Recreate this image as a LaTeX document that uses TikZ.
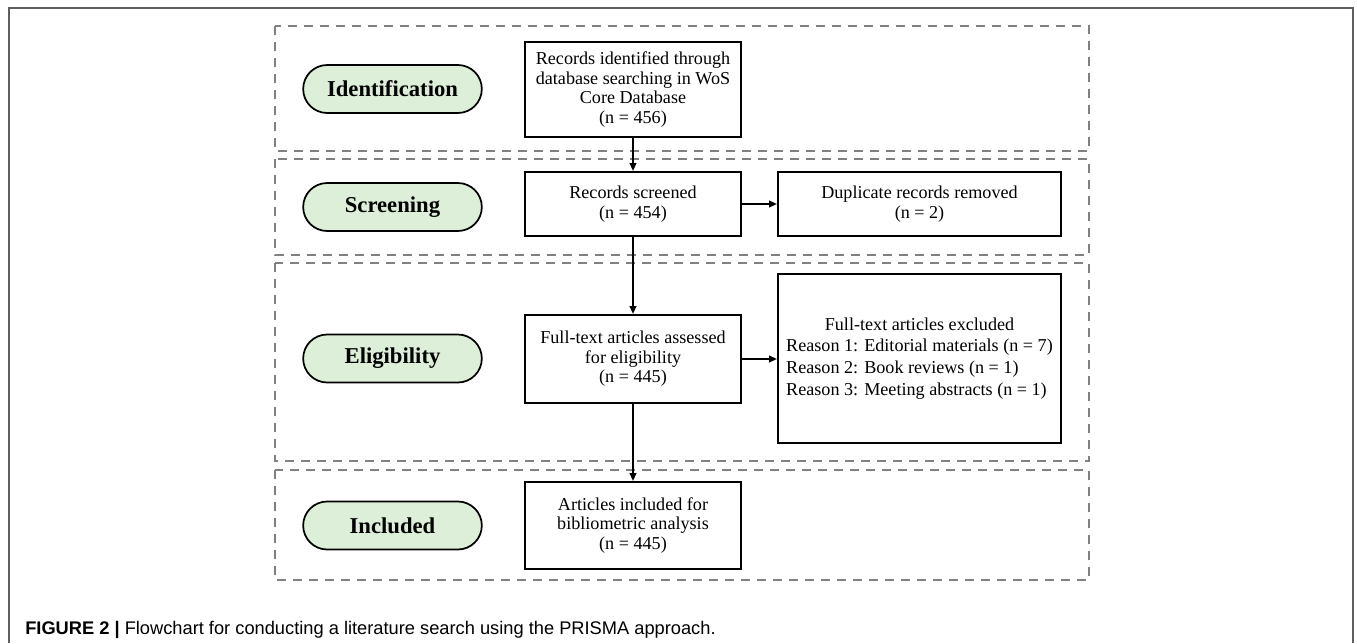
\documentclass[tikz,border=0pt]{standalone}
\usepackage{fontspec}
\setmainfont{Liberation Serif}
\newfontfamily\capfont{Liberation Sans}
\usetikzlibrary{arrows.meta}
\definecolor{pillgreen}{RGB}{221,239,216}
\definecolor{dashgray}{RGB}{128,128,128}
\definecolor{framegray}{RGB}{95,95,95}
\begin{document}
\begin{tikzpicture}[x=0.75pt,y=-0.75pt,
  stage/.style={draw=dashgray, line width=2.1pt, dash pattern=on 7pt off 5pt},
  pill/.style={draw=black, line width=1.3pt, fill=pillgreen, rounded corners=18pt,
    minimum width=134pt, minimum height=36pt, inner sep=0pt,
    font=\fontsize{17}{20}\selectfont\bfseries},
  flowbox/.style={draw=black, line width=1.5pt, minimum width=162pt, align=center,
    inner sep=0pt, font=\fontsize{13.6}{14.6}\selectfont},
  conn/.style={line width=1.4pt, -{Triangle[length=6pt,width=5pt]}}]
\useasboundingbox (0,0) rectangle (1357,643);
\fill[white] (0,0) rectangle (1357,643);
% outer figure frame
\draw[framegray, line width=0.9pt] (9,643) -- (9,8) -- (1353,8) -- (1353,643);
% stage frames
\draw[stage] (275,26) rectangle (1089,151);
\draw[stage] (275,159) rectangle (1089,255);
\draw[stage] (275,263) rectangle (1089,461);
\draw[stage] (275,470) rectangle (1089,580);
% stage labels
\node[pill] (pid) at (392.5,89) {Identification};
\node[pill] (psc) at (392.5,207) {Screening};
\node[pill] (pel) at (392.5,358.5) {Eligibility};
\node[pill] (pin) at (392.5,525.5) {Included};
% boxes
\node[flowbox, minimum height=71.25pt] (ident) at (633,89.5)
  {Records identified through\\database searching in WoS\\Core Database\\(n = 456)};
\node[flowbox, minimum height=48pt] (screened) at (633,204)
  {Records screened\\(n = 454)};
\node[flowbox, minimum width=212.25pt, minimum height=48pt] (dup) at (919.5,204)
  {Duplicate records removed\\(n = 2)};
\node[flowbox, minimum height=66pt] (assessed) at (633,359)
  {Full-text articles assessed\\for eligibility\\(n = 445)};
\node[flowbox, minimum width=212.25pt, minimum height=126.75pt,
  font=\fontsize{13.6}{16.3}\selectfont] (excluded) at (919.5,358.5)
  {\begin{tabular}{@{}l@{}}\multicolumn{1}{@{}c@{}}{Full-text articles excluded}\\
   Reason 1: Editorial materials (n = 7)\\
   Reason 2: Book reviews (n = 1)\\
   Reason 3: Meeting abstracts (n = 1)\end{tabular}};
\node[flowbox, minimum height=65.25pt] (included) at (633,525.5)
  {Articles included for\\bibliometric analysis\\(n = 445)};
% connectors
\draw[conn] (ident.south) -- (screened.north);
\draw[conn] (screened.east) -- (dup.west);
\draw[conn] (screened.south) -- (assessed.north);
\draw[conn] (assessed.east) -- (assessed.east -| excluded.west);
\draw[conn] (assessed.south) -- (included.north);
% caption
\node[anchor=base west, inner sep=0pt, font=\capfont\fontsize{13.7}{16}\selectfont] (caption) at (25,634)
  {\textbf{FIGURE 2 |} Flowchart for conducting a literature search using the PRISMA approach.};
\end{tikzpicture}
\end{document}
